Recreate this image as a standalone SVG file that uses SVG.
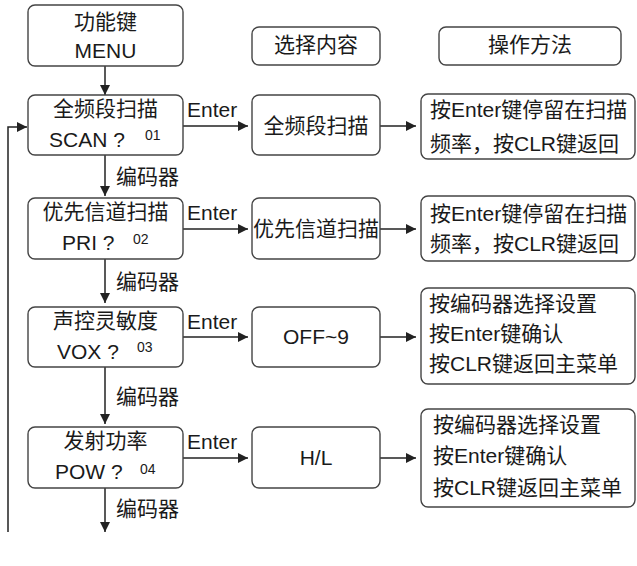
<svg xmlns="http://www.w3.org/2000/svg" width="637" height="566" viewBox="0 0 637 566">
<defs>
<marker id="ah" viewBox="0 0 10 10" refX="10" refY="5" markerWidth="10" markerHeight="10" markerUnits="userSpaceOnUse" orient="auto">
<path d="M0,0 L10,5 L0,10 Z" fill="#222"/>
</marker>
<style>
.box{fill:#fff;stroke:#444;stroke-width:1.4}
.t{font-family:"Liberation Sans","Noto Sans CJK SC",sans-serif;font-size:21px;fill:#1a1a1a}
.c{text-anchor:middle}
.n{font-family:"Liberation Sans",sans-serif;font-size:14px;fill:#1a1a1a}
.ln{stroke:#222;stroke-width:1.5;fill:none}
.ar{stroke:#222;stroke-width:1.5;fill:none;marker-end:url(#ah)}
</style>
</defs>
<rect width="637" height="566" fill="#fff"/>

<g id="connectors">
<line class="ar" x1="105" y1="66" x2="105" y2="95"/>
<line class="ar" x1="105" y1="155" x2="105" y2="196"/>
<line class="ar" x1="105" y1="259" x2="105" y2="303"/>
<line class="ar" x1="105" y1="367" x2="105" y2="424"/>
<line class="ar" x1="105" y1="488" x2="105" y2="532"/>
<polyline class="ar" points="8,532 8,127 27,127"/>
<line class="ar" x1="183" y1="126" x2="248" y2="126"/>
<line class="ar" x1="183" y1="229" x2="248" y2="229"/>
<line class="ar" x1="183" y1="337" x2="248" y2="337"/>
<line class="ar" x1="183" y1="458" x2="248" y2="458"/>
<line class="ar" x1="380" y1="126" x2="416" y2="126"/>
<line class="ar" x1="380" y1="229" x2="416" y2="229"/>
<line class="ar" x1="380" y1="337" x2="416" y2="337"/>
<line class="ar" x1="380" y1="458" x2="416" y2="458"/>
<text class="t" x="187" y="117">Enter</text>
<text class="t" x="187" y="220">Enter</text>
<text class="t" x="187" y="329">Enter</text>
<text class="t" x="187" y="449">Enter</text>
<text class="t" x="116" y="184">编码器</text>
<text class="t" x="116" y="289">编码器</text>
<text class="t" x="116" y="404">编码器</text>
<text class="t" x="116" y="516">编码器</text>
</g>

<g id="menu">
<rect class="box" x="28" y="5" width="155" height="61" rx="7"/>
<text class="t c" x="105.5" y="29">功能键</text>
<text class="t c" x="105.5" y="58">MENU</text>
</g>

<g id="hdr-select">
<rect class="box" x="252" y="27" width="128" height="38" rx="7"/>
<text class="t c" x="316" y="52">选择内容</text>
</g>
<g id="hdr-op">
<rect class="box" x="439" y="27" width="182" height="38" rx="7"/>
<text class="t c" x="530" y="52">操作方法</text>
</g>

<g id="scan">
<rect class="box" x="28" y="95" width="155" height="60" rx="7"/>
<text class="t c" x="105.5" y="116">全频段扫描</text>
<text class="t" x="49" y="147">SCAN ?</text>
<text class="n" x="145" y="140">01</text>
</g>
<g id="pri">
<rect class="box" x="28" y="198" width="155" height="61" rx="7"/>
<text class="t c" x="105.5" y="219">优先信道扫描</text>
<text class="t" x="62" y="250">PRI ?</text>
<text class="n" x="133" y="244">02</text>
</g>
<g id="vox">
<rect class="box" x="28" y="307" width="155" height="60" rx="7"/>
<text class="t c" x="105.5" y="328">声控灵敏度</text>
<text class="t" x="57" y="359">VOX ?</text>
<text class="n" x="137" y="352">03</text>
</g>
<g id="pow">
<rect class="box" x="28" y="427" width="155" height="61" rx="7"/>
<text class="t c" x="105.5" y="448">发射功率</text>
<text class="t" x="55" y="479">POW ?</text>
<text class="n" x="140" y="474">04</text>
</g>

<g id="sel-scan">
<rect class="box" x="252" y="95" width="128" height="60" rx="7"/>
<text class="t c" x="316" y="133">全频段扫描</text>
</g>
<g id="sel-pri">
<rect class="box" x="252" y="198" width="128" height="61" rx="7"/>
<text class="t c" x="316" y="236">优先信道扫描</text>
</g>
<g id="sel-vox">
<rect class="box" x="252" y="307" width="128" height="60" rx="7"/>
<text class="t c" x="316" y="344">OFF~9</text>
</g>
<g id="sel-pow">
<rect class="box" x="252" y="427" width="128" height="61" rx="7"/>
<text class="t c" x="316" y="465">H/L</text>
</g>

<g id="op-scan">
<rect class="box" x="421" y="94" width="214" height="65" rx="7"/>
<text class="t" x="430" y="117">按Enter键停留在扫描</text>
<text class="t" x="430" y="151">频率，按CLR键返回</text>
</g>
<g id="op-pri">
<rect class="box" x="421" y="196" width="214" height="65" rx="7"/>
<text class="t" x="430" y="221">按Enter键停留在扫描</text>
<text class="t" x="430" y="251">频率，按CLR键返回</text>
</g>
<g id="op-vox">
<rect class="box" x="421" y="288" width="214" height="96" rx="7"/>
<text class="t" x="429" y="311">按编码器选择设置</text>
<text class="t" x="429" y="341">按Enter键确认</text>
<text class="t" x="429" y="371">按CLR键返回主菜单</text>
</g>
<g id="op-pow">
<rect class="box" x="421" y="409" width="214" height="98" rx="7"/>
<text class="t" x="433" y="432">按编码器选择设置</text>
<text class="t" x="433" y="463">按Enter键确认</text>
<text class="t" x="433" y="495">按CLR键返回主菜单</text>
</g>
</svg>
